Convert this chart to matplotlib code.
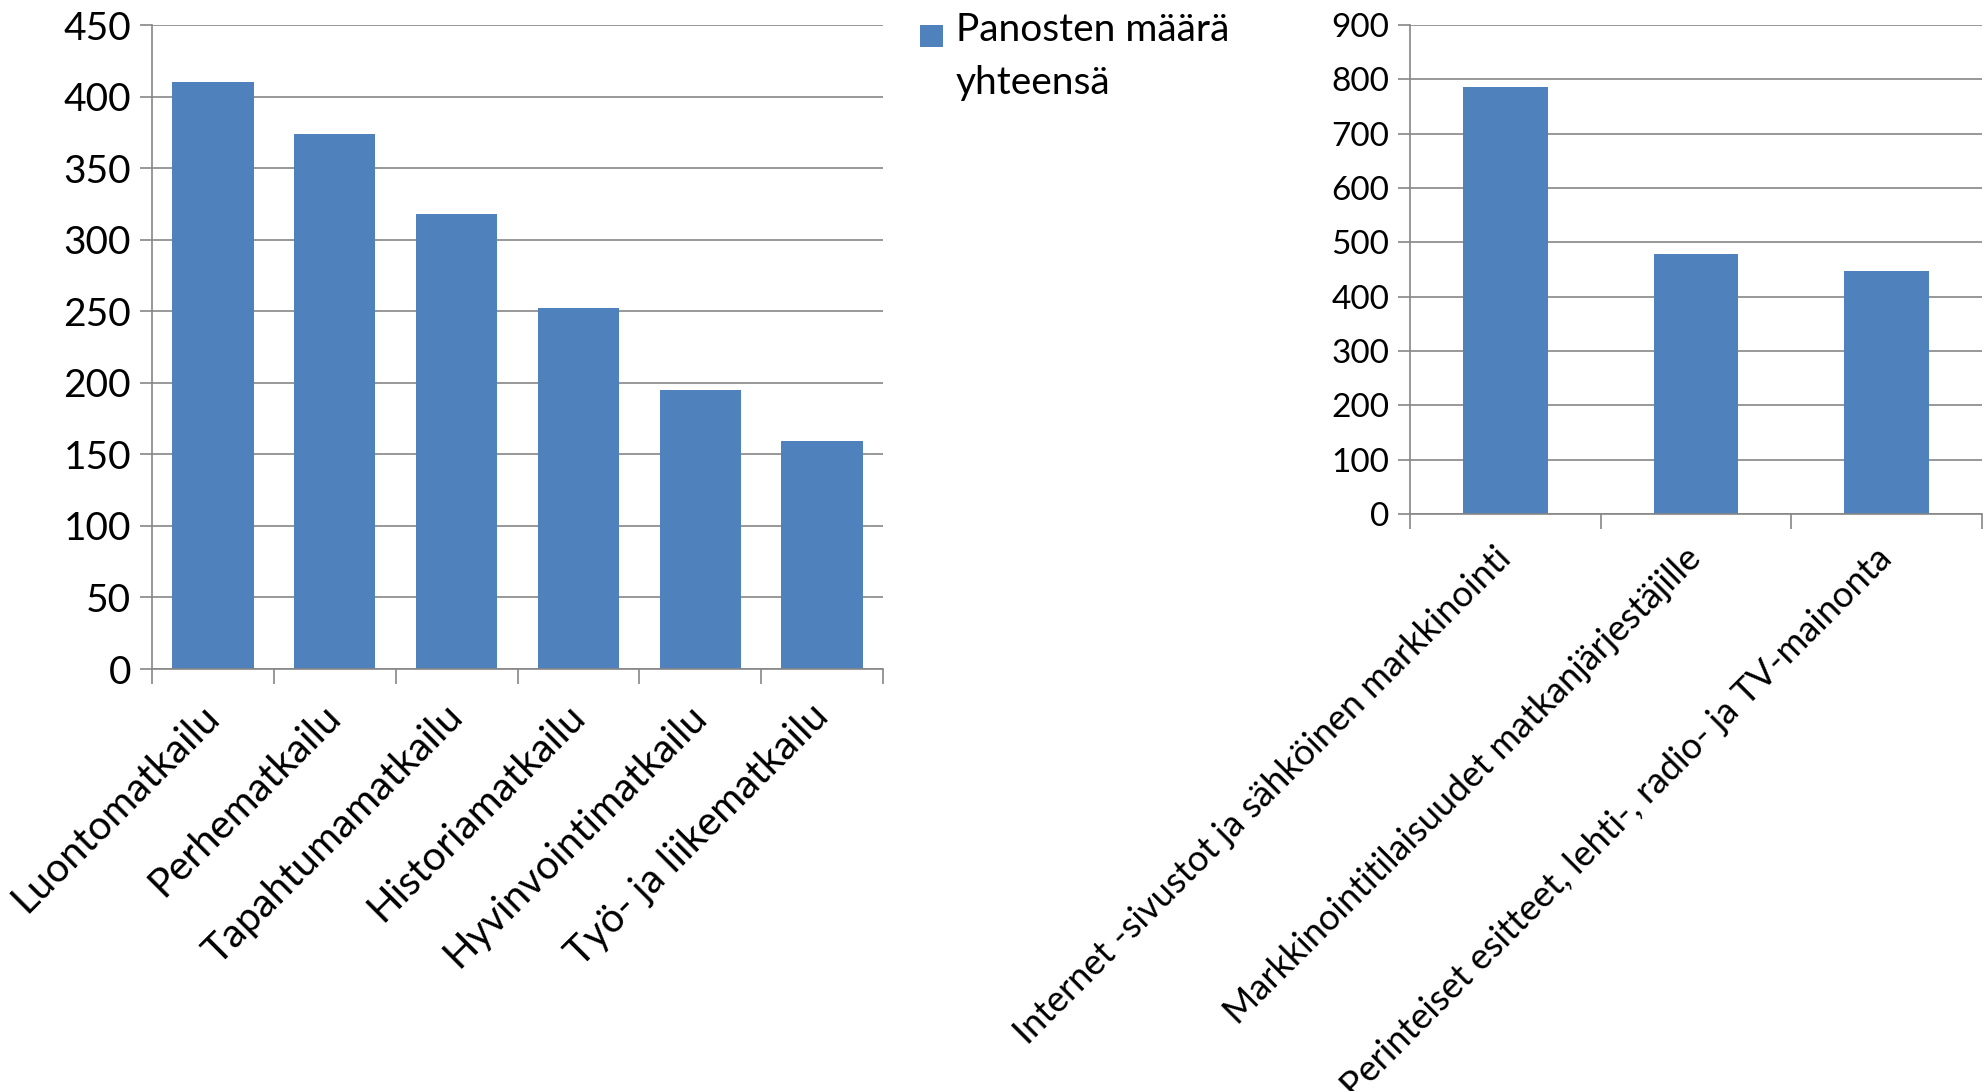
import matplotlib

matplotlib.use("Agg")
import matplotlib.pyplot as plt
import numpy as np
from matplotlib.patches import Rectangle

BAR = "#4F81BD"
GRID = "#868686"
INK = "#000000"

# left chart: travel themes
themes = ["Luontomatkailu", "Perhematkailu", "Tapahtumamatkailu",
          "Historiamatkailu", "Hyvinvointimatkailu", "Työ- ja liikematkailu"]
theme_vals = [410, 374, 318, 252, 195, 159]
left_ticks = [0, 50, 100, 150, 200, 250, 300, 350, 400, 450]

# right chart: marketing channels
channels = ["Internet -sivustot ja sähköinen markkinointi",
            "Markkinointitilaisuudet matkanjärjestäjille",
            "Perinteiset esitteet, lehti-, radio- ja TV-mainonta"]
channel_vals = [785, 478, 447]
right_ticks = [0, 100, 200, 300, 400, 500, 600, 700, 800, 900]

legend_label = "Panosten määrä\nyhteensä"

plt.rcParams["font.family"] = ["Lato", "DejaVu Sans"]

W, H = 1986, 1091
fig = plt.figure(figsize=(W / 100, H / 100), dpi=100)


def px_axes(x0, y0, x1, y1):
    return fig.add_axes([x0 / W, 1 - y1 / H, (x1 - x0) / W, (y1 - y0) / H])


def style(ax, cats, vals, ticks, width, fs_y, fs_x, pad):
    x = np.arange(len(cats))
    ax.bar(x, vals, width=width, color=BAR, zorder=2)
    ax.set_xlim(-0.5, len(cats) - 0.5)
    ax.set_ylim(ticks[0], ticks[-1])
    ax.set_yticks(ticks)
    ax.set_yticklabels([str(t) for t in ticks], fontsize=fs_y, color=INK)
    ax.yaxis.grid(True, color=GRID, lw=1.2, zorder=0)
    ax.set_axisbelow(True)
    ax.set_xticks(x)
    ax.set_xticklabels(cats, rotation=45, ha="right", va="center",
                       rotation_mode="anchor", fontsize=fs_x, color=INK)
    ax.set_xticks(np.arange(len(cats) + 1) - 0.5, minor=True)
    ax.tick_params(axis="x", which="major", length=0, pad=pad)
    ax.tick_params(axis="x", which="minor", length=11, width=1.2, color=GRID)
    ax.tick_params(axis="y", length=9, width=1.2, color=GRID, pad=6)
    for s in ("top", "right"):
        ax.spines[s].set_visible(False)
    for s in ("left", "bottom"):
        ax.spines[s].set_color(GRID)
        ax.spines[s].set_linewidth(1.2)


ax1 = px_axes(152, 25, 883, 669)
style(ax1, themes, theme_vals, left_ticks, 0.667, 28, 29, 30)

ax2 = px_axes(1410, 25, 1982, 514)
style(ax2, channels, channel_vals, right_ticks, 0.444, 24, 26, 28)

# legend drawn by hand so the swatch sits on the first line
fig.patches.append(Rectangle((920 / W, 1 - 47 / H), 23 / W, 22 / H,
                             transform=fig.transFigure, fc=BAR, ec="none"))
fig.text(956 / W, 1 - 12 / H, legend_label, ha="left", va="top",
         fontsize=28, color=INK, linespacing=1.6)

fig.savefig("out.png", dpi=100)
